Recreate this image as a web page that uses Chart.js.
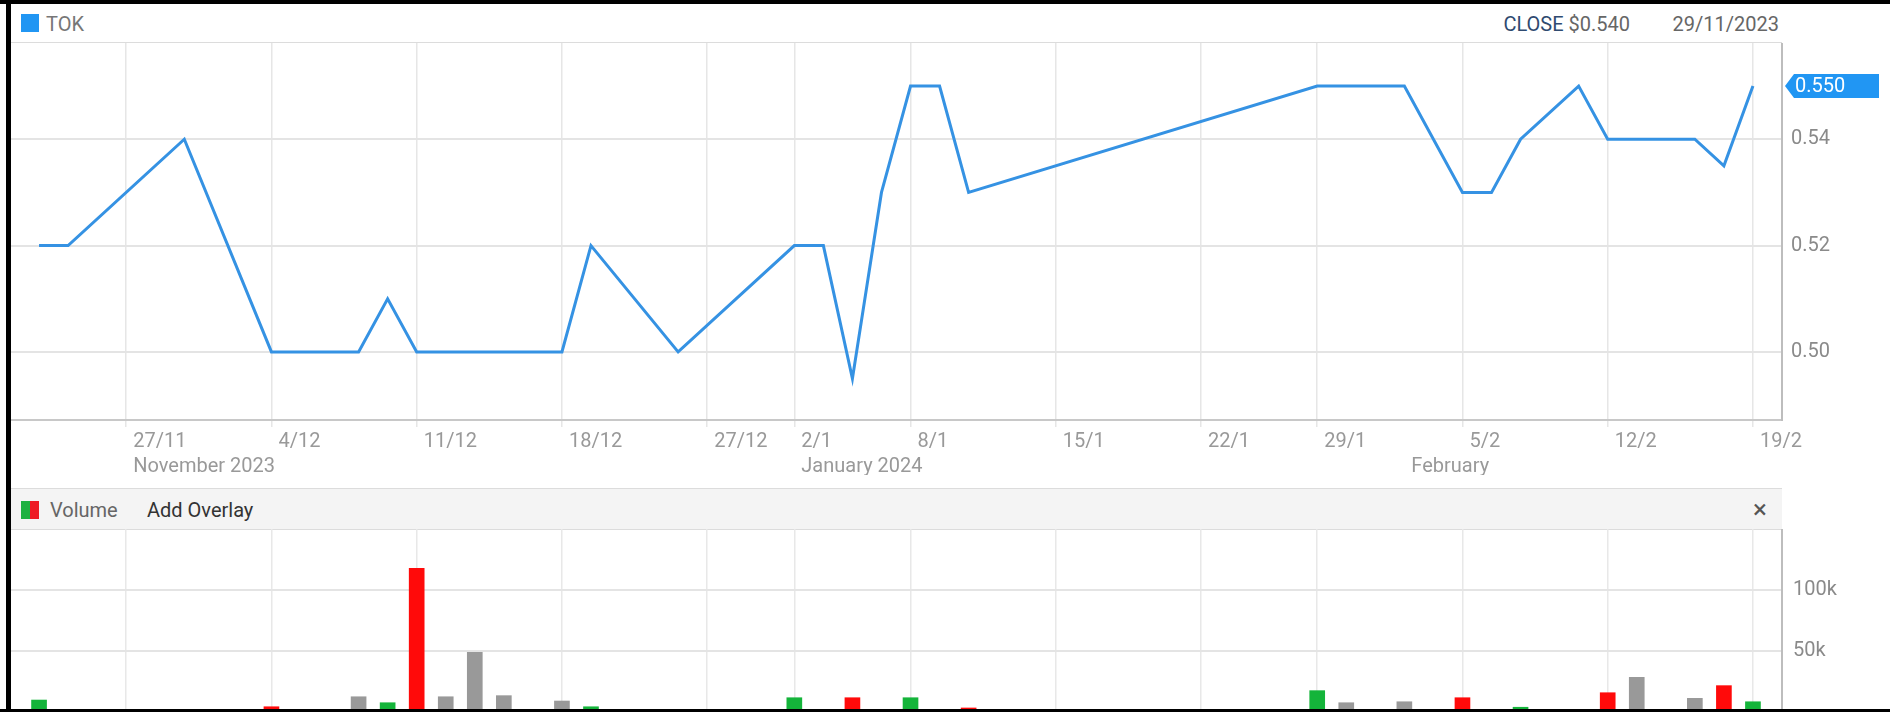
<!DOCTYPE html>
<html>
<head>
<meta charset="utf-8">
<script src="https://cdn.jsdelivr.net/npm/chart.js@4.4.1/dist/chart.umd.min.js"></script>
<style>
  html, body { margin: 0; padding: 0; background: #fff; }
  body { width: 1890px; height: 712px; position: relative; overflow: hidden; font-family: Roboto, sans-serif; }
  .abs { position: absolute; }
  .txt { font-size: 20px; line-height: 24px; white-space: nowrap; }
  #frame-top { left: 0; top: 0; width: 1890px; height: 4px; background: #000; z-index: 5; }
  #frame-left { left: 6px; top: 0; width: 5px; height: 712px; background: #000; z-index: 5; }
  #frame-bottom { left: 0; top: 709px; width: 1890px; height: 3px; background: #000; z-index: 5; }
  #plot-top { left: 10px; top: 42px; width: 1772px; height: 0; border-top: 1.5px solid #dcdcdc; }
  #vol-head { left: 10px; top: 488px; width: 1772px; height: 40px; background: #f4f4f4;
              border-top: 1.5px solid #dcdcdc; border-bottom: 1.5px solid #dcdcdc; }
  canvas { position: absolute; left: 0; }
</style>
</head>
<body>
<div id="frame-top" class="abs"></div>
<div id="frame-left" class="abs"></div>
<div id="frame-bottom" class="abs"></div>

<div class="abs" style="left:21px; top:14px; width:18px; height:18px; background:#2196f3;"></div>
<div id="ticker" class="abs txt" style="left:46px; top:12px; color:#777;"></div>
<div class="abs txt" style="right:260px; top:12px;"><span id="close-word" style="color:#2f4a70;"></span> <span id="close-val" style="color:#666;"></span></div>
<div id="close-date" class="abs txt" style="right:111px; top:12px; color:#666;"></div>
<div id="plot-top" class="abs"></div>

<canvas id="priceChart" width="1890" height="432" style="top:43px;"></canvas>

<div id="vol-head" class="abs"></div>
<div class="abs" style="left:21px; top:501px; width:9px; height:18px; background:#1fb141;"></div>
<div class="abs" style="left:30px; top:501px; width:9px; height:18px; background:#ee1c25;"></div>
<div class="abs txt" style="left:50px; top:498px; color:#666;">Volume</div>
<div class="abs txt" style="left:147px; top:498px; color:#333;">Add Overlay</div>
<div class="abs" style="left:1753px; top:495px; font-size:26px; line-height:28px; color:#555;">×</div>

<canvas id="volChart" width="1890" height="183" style="top:529px;"></canvas>

<script>
const ticker = 'TOK';
const closeWord = 'CLOSE';
const closeValue = '$0.540';
const closeDate = '29/11/2023';

// ASX trading days shown on the axis
const tradingDays = ['22/11','23/11','24/11','27/11','28/11','29/11','30/11','1/12',
  '4/12','5/12','6/12','7/12','8/12','11/12','12/12','13/12','14/12','15/12',
  '18/12','19/12','20/12','21/12','22/12','27/12','28/12','29/12',
  '2/1','3/1','4/1','5/1','8/1','9/1','10/1','11/1','12/1','15/1','16/1','17/1','18/1','19/1',
  '22/1','23/1','24/1','25/1','29/1','30/1','31/1','1/2','2/2',
  '5/2','6/2','7/2','8/2','9/2','12/2','13/2','14/2','15/2','16/2','19/2'];

const closes = [0.52, 0.52, null, null, null, 0.54, null, null,
  0.50, null, 0.50, 0.50, 0.51, 0.50, 0.50, 0.50, 0.50, null,
  0.50, 0.52, null, null, 0.50, null, null, null,
  0.52, 0.52, 0.495, 0.53, 0.55, 0.55, 0.53, null, null, null, null, null, null, null,
  null, null, null, null, 0.55, 0.55, 0.55, 0.55, null,
  0.53, 0.53, 0.54, null, 0.55, 0.54, 0.54, null, 0.54, 0.535, 0.55];

const volumes = [9800, null, null, null, null, 800, null, null,
  4300, null, 800, 12500, 7600, 117800, 12500, 48900, 13400, null,
  9000, 4300, null, null, 2200, null, null, null,
  11700, null, 11700, 1000, 11700, null, 3300, null, null, null, null, null, null, null,
  null, null, null, null, 17500, 7600, 800, 8400, null,
  11700, null, 3900, null, null, 15800, 28400, null, 11200, 21600, 8400];

const tickDays = ['27/11','4/12','11/12','18/12','27/12','2/1','8/1','15/1','22/1','29/1','5/2','12/2','19/2'];
const monthLabels = { '27/11': 'November 2023', '2/1': 'January 2024', '1/2': 'February' };
const priceTicks = [0.50, 0.52, 0.54];
const volumeTicks = [50000, 100000];

const upColour = '#14b43a';
const downColour = '#ff0a0a';
const flatColour = '#999999';
const lineColour = '#3592e3';

document.getElementById('ticker').innerText = ticker;
document.getElementById('close-word').innerText = closeWord;
document.getElementById('close-val').innerText = closeValue;
document.getElementById('close-date').innerText = closeDate;

const gridIdx = tickDays.map(d => tradingDays.indexOf(d));
const labelIdx = Array.from(new Set(gridIdx.concat(Object.keys(monthLabels).map(d => tradingDays.indexOf(d))))).sort((a, b) => a - b);
const xMin = -1;
const xMax = tradingDays.length;
const font = { family: 'Roboto', size: 20, lineHeight: 1.275 };

function xLabel(v) {
    const day = tradingDays[v];
    const top = tickDays.includes(day) ? day : '';
    return monthLabels[day] ? [top, monthLabels[day]] : top;
}

function gridColour(ctx, col) {
    if (ctx.tick && !gridIdx.includes(ctx.tick.value)) return 'rgba(0,0,0,0)';
    return col;
}

// price points and bar colours (up / down / unchanged vs previous close)
const pricePoints = [];
const volPoints = [];
const volColours = [];
let prev = null;
tradingDays.forEach((d, i) => {
    const c = closes[i];
    if (c !== null) pricePoints.push({ x: i, y: c });
    if (volumes[i] !== null) {
        let col = upColour;
        if (prev !== null && c !== null) col = c > prev ? upColour : (c < prev ? downColour : flatColour);
        volPoints.push({ x: i, y: volumes[i] });
        volColours.push(col);
    }
    if (c !== null) prev = c;
});

const lastTag = {
    id: 'lastTag',
    afterDraw(chart) {
        const { ctx, chartArea } = chart;
        const last = pricePoints[pricePoints.length - 1].y;
        const py = chart.scales.y.getPixelForValue(last);
        const x0 = chartArea.right + 3;
        ctx.save();
        ctx.fillStyle = '#2196f3';
        ctx.beginPath();
        ctx.moveTo(x0, py);
        ctx.lineTo(x0 + 9, py - 12);
        ctx.lineTo(x0 + 94, py - 12);
        ctx.lineTo(x0 + 94, py + 12);
        ctx.lineTo(x0 + 9, py + 12);
        ctx.closePath();
        ctx.fill();
        ctx.fillStyle = '#fff';
        ctx.font = '20px Roboto';
        ctx.textBaseline = 'middle';
        ctx.fillText(last.toFixed(3), x0 + 10, py + 1);
        ctx.restore();
    }
};

new Chart(document.getElementById('priceChart'), {
    type: 'line',
    data: {
        datasets: [{
            label: ticker,
            data: pricePoints,
            borderColor: lineColour,
            borderWidth: 3,
            pointRadius: 0,
            tension: 0
        }]
    },
    options: {
        responsive: false,
        animation: false,
        layout: { padding: { left: 10, right: 0, top: 0, bottom: 0 } },
        plugins: { legend: { display: false }, tooltip: { enabled: false } },
        scales: {
            x: {
                type: 'linear', min: xMin, max: xMax,
                afterBuildTicks: s => { s.ticks = labelIdx.map(v => ({ value: v })); },
                afterFit: s => { s.height = 55; s.paddingLeft = 0; s.paddingRight = 0; },
                grid: { color: ctx => gridColour(ctx, '#e6e6e6'), lineWidth: 1.5, tickLength: 7 },
                border: { color: '#c8c8c8', width: 2 },
                ticks: {
                    autoSkip: false, maxRotation: 0, minRotation: 0,
                    align: 'start', labelOffset: 7, padding: 2,
                    color: '#999', font: font,
                    callback: v => xLabel(v)
                }
            },
            y: {
                type: 'linear', position: 'right', min: 0.4872, max: 0.5581,
                afterBuildTicks: s => { s.ticks = priceTicks.map(v => ({ value: v })); },
                afterFit: s => { s.width = 108; s.paddingTop = 0; s.paddingBottom = 0; },
                grid: { color: '#e4e4e4', lineWidth: 2, drawTicks: false },
                border: { color: '#bdbdbd', width: 2 },
                ticks: { padding: 9, color: '#8a8a8a', font: font, callback: v => v.toFixed(2) }
            }
        }
    },
    plugins: [lastTag]
});

new Chart(document.getElementById('volChart'), {
    type: 'bar',
    data: {
        datasets: [{
            label: 'Volume',
            data: volPoints,
            backgroundColor: volColours,
            barThickness: 15
        }]
    },
    options: {
        responsive: false,
        animation: false,
        layout: { padding: { left: 10, right: 0, top: 0, bottom: 0 } },
        plugins: { legend: { display: false }, tooltip: { enabled: false } },
        scales: {
            x: {
                type: 'linear', min: xMin, max: xMax, offset: false,
                afterBuildTicks: s => { s.ticks = gridIdx.map(v => ({ value: v })); },
                afterFit: s => { s.height = 0; s.paddingLeft = 0; s.paddingRight = 0; },
                grid: { offset: false, color: '#e8e8e8', lineWidth: 1.5, drawTicks: false },
                border: { display: false },
                ticks: { display: false }
            },
            y: {
                type: 'linear', position: 'right', min: 0, max: 150000,
                afterBuildTicks: s => { s.ticks = volumeTicks.map(v => ({ value: v })); },
                afterFit: s => { s.width = 108; s.paddingTop = 0; s.paddingBottom = 0; },
                grid: { color: '#e4e4e4', lineWidth: 2, drawTicks: false },
                border: { color: '#bdbdbd', width: 2 },
                ticks: { padding: 11, color: '#8a8a8a', font: font, callback: v => (v / 1000) + 'k' }
            }
        }
    }
});
</script>
</body>
</html>
